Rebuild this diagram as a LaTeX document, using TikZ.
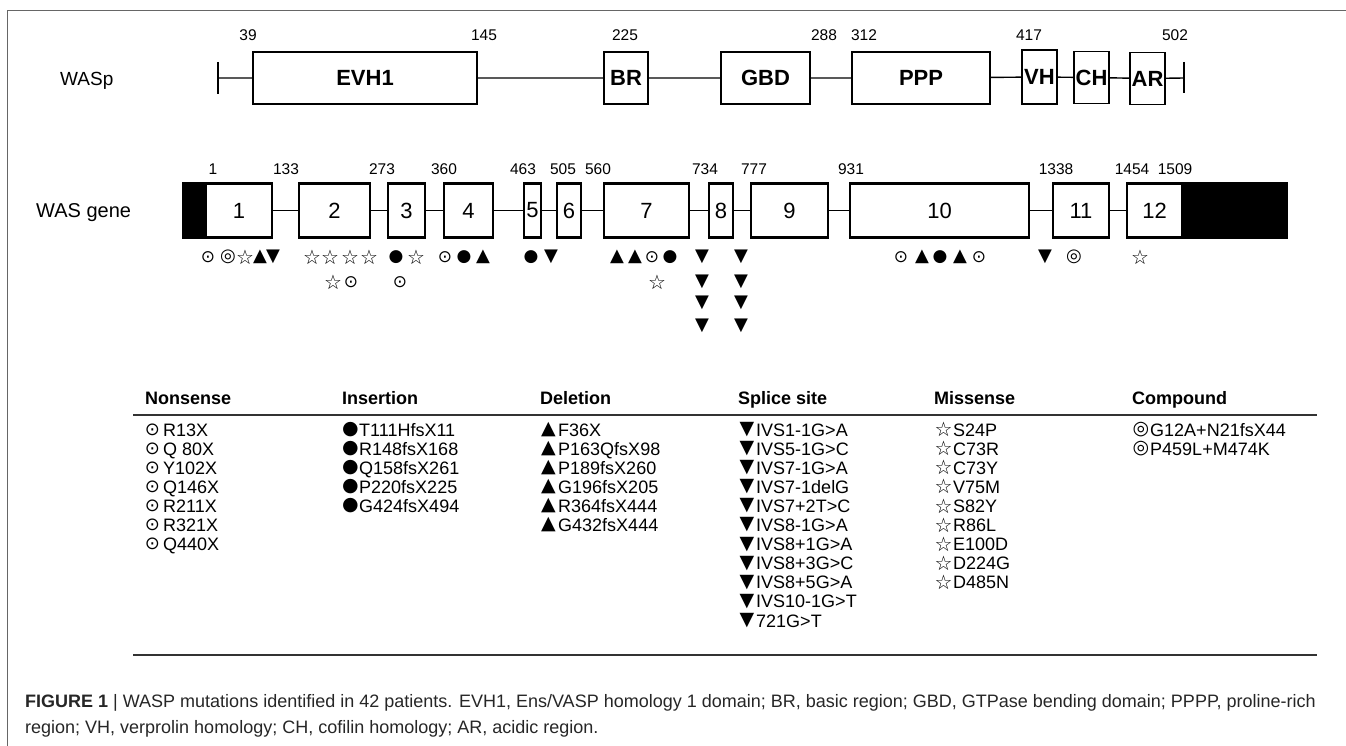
\documentclass[tikz,border=0pt]{standalone}
\usepackage{fontspec}
\setmainfont{Liberation Sans}
\newfontfamily\symfont{DejaVu Sans}
% glyphs for the gene row
\newcommand\gO{{\symfont\fontsize{17}{17}\selectfont ⊙}}
\newcommand\gC{{\symfont\fontsize{18}{18}\selectfont ◎}}
\newcommand\gS{{\symfont\fontsize{20}{20}\selectfont ☆}}
\newcommand\gU{{\symfont\fontsize{18}{18}\selectfont ▲}}
\newcommand\gD{{\symfont\fontsize{18}{18}\selectfont ▼}}
\newcommand\gB{{\symfont\fontsize{17}{17}\selectfont ●}}
% glyphs for the table
\newcommand\tO{{\symfont\fontsize{18}{18}\selectfont ⊙}}
\newcommand\tC{{\symfont\fontsize{19}{19}\selectfont ◎}}
\newcommand\tS{{\symfont\fontsize{20}{20}\selectfont ☆}}
\newcommand\tU{{\symfont\fontsize{19}{19}\selectfont ▲}}
\newcommand\tD{{\symfont\fontsize{19}{19}\selectfont ▼}}
\newcommand\tB{{\symfont\fontsize{19}{19}\selectfont ●}}
\begin{document}
\begin{tikzpicture}[x=1pt,y=-1pt,
  dom/.style={draw,line width=1.8pt,inner sep=0pt,outer sep=0pt,minimum height=52pt,font=\fontsize{22}{22}\selectfont\bfseries},
  exon/.style={draw,line width=2.2pt,inner sep=0pt,outer sep=0pt,minimum height=54pt,font=\fontsize{22}{22}\selectfont},
  utr/.style={draw,fill=black,line width=2.2pt,inner sep=0pt,outer sep=0pt,minimum height=54pt},
  num/.style={inner sep=0pt,font=\fontsize{15.5}{15.5}\selectfont},
  rowlab/.style={inner sep=0pt,anchor=west,font=\fontsize{19}{19}\selectfont},
  conn/.style={line width=1.4pt},
  gsym/.style={inner sep=0pt},
  tsym/.style={inner sep=0pt},
  entry/.style={inner sep=0pt,anchor=base west,font=\fontsize{18}{18}\selectfont},
  head/.style={inner sep=0pt,anchor=base west,font=\fontsize{18}{18}\selectfont\bfseries},
  tabrule/.style={line width=2.2pt,black!80},
  frameline/.style={line width=1.6pt,black!60},
  capt/.style={inner sep=0pt,anchor=base west,font=\fontsize{18}{18}\selectfont,text=black!85}
]
\useasboundingbox (0,0) rectangle (1346,746);
% frame
\coordinate (fbl) at (7.5,746);
\coordinate (ftl) at (7.5,10.5);
\coordinate (ftr) at (1346,10.5);
\draw[frameline] (fbl) -- (ftl) -- (ftr);

% ---------------- WASp protein
\node[rowlab] (lwasp) at (60,81) {WASp};
\coordinate (tL) at (218,78);
\coordinate (tR) at (1184,78);
\node[dom,minimum width=224pt] (evh) at (365,78) {EVH1};
\node[dom,minimum width=44pt] (br) at (626,78) {BR};
\node[dom,minimum width=89pt] (gbd) at (765.5,78) {GBD};
\node[dom,minimum width=138pt] (ppp) at (921,78) {PPP};
\node[dom,minimum width=35pt,minimum height=54pt] (vh) at (1039.5,77) {VH};
\node[dom,minimum width=35pt] (ch) at (1091.5,77.5) {CH};
\node[dom,minimum width=35pt] (ar) at (1147.5,78.5) {AR};
\draw[conn] (tL) -- (evh) (evh) -- (br) (br) -- (gbd) (gbd) -- (ppp) (ppp) -- (vh) (vh) -- (ch) (ch) -- (ar) (ar) -- (tR);
\draw[conn] ([yshift=16pt]tL) -- ([yshift=-16pt]tL);
\draw[conn] ([yshift=16pt]tR) -- ([yshift=-15pt]tR);
\foreach \x/\t [count=\i] in {248/39,484/145,625/225,824/288,864/312,1029/417,1175/502}
  \node[num] (pn\i) at (\x,35) {\t};

% ---------------- WAS gene
\node[rowlab,font=\fontsize{20}{20}\selectfont] (lgene) at (36,213) {WAS gene};
\node[utr,minimum width=23pt] (u5) at (194.5,210.5) {};
\node[exon,minimum width=66pt] (e1) at (239,210.5) {1};
\node[exon,minimum width=71pt] (e2) at (334.5,210.5) {2};
\node[exon,minimum width=37pt] (e3) at (406.5,210.5) {3};
\node[exon,minimum width=49pt] (e4) at (468.5,210.5) {4};
\node[exon,minimum width=17pt] (e5) at (532.5,210.5) {5};
\node[exon,minimum width=24pt] (e6) at (569,210.5) {6};
\node[exon,minimum width=85pt] (e7) at (646.5,210.5) {7};
\node[exon,minimum width=24pt] (e8) at (721,210.5) {8};
\node[exon,minimum width=77pt] (e9) at (789.5,210.5) {9};
\node[exon,minimum width=179pt] (e10) at (939.5,210.5) {10};
\node[exon,minimum width=56pt] (e11) at (1081,210.5) {11};
\node[exon,minimum width=55pt] (e12) at (1154.5,210.5) {12};
\node[utr,minimum width=105pt] (u3) at (1234.5,210.5) {};
\draw[conn] (e1) -- (e2) (e2) -- (e3) (e3) -- (e4) (e4) -- (e5) (e5) -- (e6) (e6) -- (e7) (e7) -- (e8) (e8) -- (e9) (e9) -- (e10) (e10) -- (e11) (e11) -- (e12);
\foreach \x/\t [count=\i] in {213/1,286/133,382/273,444/360,523/463,563/505,598/560,705/734,754/777,851/931,1056/1338,1132/1454,1175/1509}
  \node[num] (gn\i) at (\x,169) {\t};

% mutation symbols under the gene
\foreach \x/\s [count=\i] in {208/\gO,228/\gC,245/\gS,260/\gU,273/\gD,312/\gS,330/\gS,350/\gS,369/\gS,396/\gB,416/\gS,445/\gO,464/\gB,483/\gU,531/\gB,551/\gD,617/\gU,635/\gU,652/\gO,670/\gB,702/\gD,741/\gD,901/\gO,922/\gU,940/\gB,960/\gU,979/\gO,1045/\gD,1074/\gC,1140/\gS}
  \node[gsym] (ma\i) at (\x,257) {\s};
\foreach \x/\s [count=\i] in {333/\gS,351/\gO,400/\gO,657/\gS,702/\gD,741/\gD}
  \node[gsym] (mb\i) at (\x,282) {\s};
\foreach \x/\s [count=\i] in {702/\gD,741/\gD}
  \node[gsym] (mc\i) at (\x,303) {\s};
\foreach \x/\s [count=\i] in {702/\gD,741/\gD}
  \node[gsym] (md\i) at (\x,326) {\s};

% ---------------- table
\node[head] (h1) at (145,404) {Nonsense};
\node[head] (h2) at (342,404) {Insertion};
\node[head] (h3) at (540,404) {Deletion};
\node[head] (h4) at (738,404) {Splice site};
\node[head] (h5) at (934,404) {Missense};
\node[head] (h6) at (1132,404) {Compound};
\coordinate (hl) at (133,415);
\coordinate (hr) at (1317,415);
\draw[tabrule] (hl) -- (hr);
\coordinate (bl) at (133,655);
\coordinate (br2) at (1317,655);
\draw[tabrule] (bl) -- (br2);

\foreach \t [count=\i from 0] in {R13X,Q 80X,Y102X,Q146X,R211X,R321X,Q440X} {
  \node[tsym] (nss\i) at (152.5,{429.5+19.1*\i}) {\tO};
  \node[entry] (nst\i) at (163,{436+19.1*\i}) {\t};
}
\foreach \t [count=\i from 0] in {T111HfsX11,R148fsX168,Q158fsX261,P220fsX225,G424fsX494} {
  \node[tsym] (ins\i) at (350.5,{429.5+19.1*\i}) {\tB};
  \node[entry] (int\i) at (359,{436+19.1*\i}) {\t};
}
\foreach \t [count=\i from 0] in {F36X,P163QfsX98,P189fsX260,G196fsX205,R364fsX444,G432fsX444} {
  \node[tsym] (dls\i) at (548.5,{429.5+19.1*\i}) {\tU};
  \node[entry] (dlt\i) at (558,{436+19.1*\i}) {\t};
}
\foreach \t [count=\i from 0] in {IVS1-1G>A,IVS5-1G>C,IVS7-1G>A,IVS7-1delG,IVS7+2T>C,IVS8-1G>A,IVS8+1G>A,IVS8+3G>C,IVS8+5G>A,IVS10-1G>T,721G>T} {
  \node[tsym] (sps\i) at (747,{429.5+19.1*\i}) {\tD};
  \node[entry] (spt\i) at (756,{436+19.1*\i}) {\t};
}
\foreach \t [count=\i from 0] in {S24P,C73R,C73Y,V75M,S82Y,R86L,E100D,D224G,D485N} {
  \node[tsym] (mss\i) at (943.5,{429.5+19.1*\i}) {\tS};
  \node[entry] (mst\i) at (953,{436+19.1*\i}) {\t};
}
\foreach \t [count=\i from 0] in {G12A+N21fsX44,P459L+M474K} {
  \node[tsym] (cps\i) at (1141,{429.5+19.1*\i}) {\tC};
  \node[entry] (cpt\i) at (1150,{436+19.1*\i}) {\t};
}

% ---------------- caption
\node[capt] (cap1) at (25,707) {\textbf{FIGURE 1} | WASP mutations identified in 42 patients. EVH1, Ens/VASP homology 1 domain; BR, basic region; GBD, GTPase bending domain; PPPP, proline-rich};
\node[capt] (cap2) at (25,733) {region; VH, verprolin homology; CH, cofilin homology; AR, acidic region.};
\end{tikzpicture}
\end{document}
